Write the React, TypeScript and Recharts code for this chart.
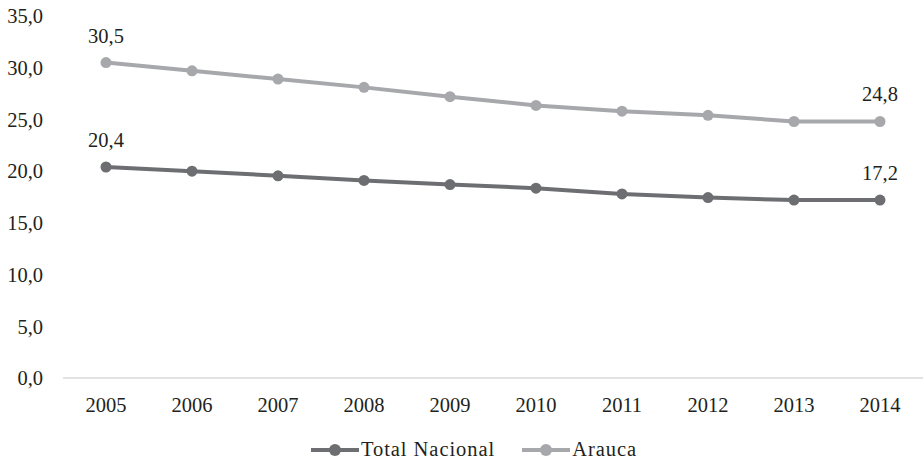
import React from "react";
import { LineChart, Line, XAxis, YAxis, Legend, LabelList } from "recharts";

const years = ["2005", "2006", "2007", "2008", "2009", "2010", "2011", "2012", "2013", "2014"];
const totalNacional = [20.4, 20.0, 19.55, 19.1, 18.7, 18.35, 17.8, 17.45, 17.2, 17.2];
const arauca = [30.5, 29.7, 28.9, 28.1, 27.2, 26.35, 25.8, 25.4, 24.8, 24.8];
const yTicks = [0, 5, 10, 15, 20, 25, 30, 35];

const seriesList = [
  { key: "total", name: "Total Nacional", color: "#6d6e71" },
  { key: "arauca", name: "Arauca", color: "#a7a8ab" },
];

const FONT = "'Liberation Serif', 'Times New Roman', serif";
const TEXT_COLOR = "#231f20";

const data = years.map((y, i) => ({
  year: y,
  total: totalNacional[i],
  arauca: arauca[i],
}));

const fmt = (v: number) => v.toFixed(1).replace(".", ",");

// only first and last points get a label
const EndLabel = (props: any) => {
  const { x, y, value, index } = props;
  if (index !== 0 && index !== years.length - 1) return null;
  return (
    <text
      x={x}
      y={y - 27}
      textAnchor="middle"
      dominantBaseline="central"
      fontFamily={FONT}
      fontSize={20.5}
      fill={TEXT_COLOR}
    >
      {fmt(value)}
    </text>
  );
};

const renderLegend = () => (
  <div
    style={{
      display: "flex",
      justifyContent: "center",
      alignItems: "center",
      gap: 27,
      paddingLeft: 24,
      fontFamily: FONT,
      fontSize: 20.5,
      letterSpacing: 0.95,
      color: TEXT_COLOR,
    }}
  >
    {seriesList.map((s) => (
      <div key={s.key} style={{ display: "flex", alignItems: "center" }}>
        <svg width={48} height={14} style={{ marginRight: 2 }}>
          <line x1={0} y1={7} x2={48} y2={7} stroke={s.color} strokeWidth={4} strokeLinecap="round" />
          <circle cx={24} cy={7} r={6} fill={s.color} />
        </svg>
        <span>{s.name}</span>
      </div>
    ))}
  </div>
);

export default function App() {
  return (
    <div style={{ position: "absolute", left: 0, top: 0, background: "#fff" }}>
      <LineChart
        width={924}
        height={462}
        data={data}
        margin={{ top: 16, right: 1, left: 0, bottom: 30 }}
      >
        <XAxis
          dataKey="year"
          padding={{ left: 43, right: 43 }}
          axisLine={{ stroke: "#d9d9d9", strokeWidth: 1.5 }}
          tickLine={false}
          tickSize={0}
          tickMargin={19}
          tick={{ fontFamily: FONT, fontSize: 20.5, fill: TEXT_COLOR }}
        />
        <YAxis
          domain={[0, 35]}
          ticks={yTicks}
          width={63}
          axisLine={false}
          tickLine={false}
          tickSize={0}
          tickMargin={20}
          tickFormatter={fmt}
          tick={{ fontFamily: FONT, fontSize: 20.5, fill: TEXT_COLOR }}
        />
        <Legend
          verticalAlign="bottom"
          content={renderLegend}
          wrapperStyle={{ bottom: 0, left: 0, width: 924, height: 24, top: 438 }}
        />
        {seriesList.map((s) => (
          <Line
            key={s.key}
            type="linear"
            dataKey={s.key}
            name={s.name}
            stroke={s.color}
            strokeWidth={4}
            dot={{ r: 5.5, fill: s.color, stroke: s.color, strokeWidth: 0 }}
            activeDot={false}
            isAnimationActive={false}
          >
            <LabelList dataKey={s.key} content={EndLabel} />
          </Line>
        ))}
      </LineChart>
    </div>
  );
}
